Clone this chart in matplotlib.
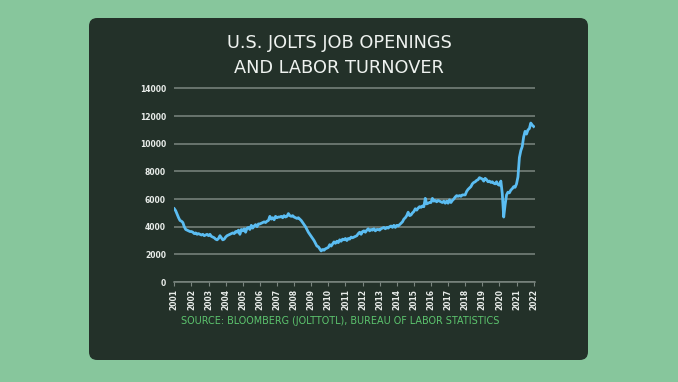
import matplotlib

matplotlib.use("Agg")
import matplotlib.pyplot as plt  # noqa: E402
import numpy as np  # noqa: E402
from matplotlib.patches import FancyBboxPatch  # noqa: E402

# monthly JOLTS job openings (thousands)
openings_by_year = {
    2001: [5300, 5150, 4900, 4650, 4450, 4400, 4300, 4000, 3800, 3750, 3700, 3650],
    2002: [3650, 3600, 3500, 3550, 3450, 3500, 3450, 3400, 3450, 3350, 3400, 3450],
    2003: [3350, 3450, 3300, 3250, 3200, 3100, 3050, 3150, 3350, 3200, 3050, 3100],
    2004: [3250, 3350, 3400, 3450, 3500, 3550, 3500, 3650, 3600, 3750, 3450, 3800],
    2005: [3700, 3850, 3600, 3900, 3950, 3800, 4100, 3900, 4050, 4150, 4000, 4200],
    2006: [4200, 4250, 4300, 4350, 4300, 4400, 4450, 4750, 4550, 4650, 4500, 4750],
    2007: [4650, 4700, 4700, 4750, 4650, 4800, 4700, 4750, 4950, 4800, 4750, 4800],
    2008: [4700, 4650, 4600, 4650, 4550, 4450, 4300, 4150, 4000, 3800, 3600, 3450],
    2009: [3300, 3150, 3000, 2800, 2600, 2550, 2400, 2250, 2350, 2300, 2400, 2450],
    2010: [2500, 2700, 2600, 2750, 2900, 2800, 2950, 2850, 3050, 2950, 3100, 3050],
    2011: [3150, 3000, 3150, 3100, 3250, 3200, 3250, 3300, 3350, 3500, 3600, 3450],
    2012: [3650, 3700, 3600, 3750, 3850, 3700, 3800, 3750, 3850, 3700, 3800, 3800],
    2013: [3750, 3850, 3900, 3950, 3850, 3950, 3900, 4000, 4050, 3950, 4100, 3950],
    2014: [4100, 4050, 4150, 4250, 4350, 4550, 4650, 4800, 5050, 4800, 4850, 5000],
    2015: [5100, 5300, 5200, 5350, 5450, 5400, 5500, 5450, 6050, 5650, 5700, 5750],
    2016: [5750, 6050, 5850, 5900, 5800, 5900, 5850, 5800, 5750, 5850, 5700, 5850],
    2017: [5700, 5950, 5750, 5900, 6000, 6150, 6250, 6200, 6250, 6200, 6300, 6300],
    2018: [6300, 6550, 6700, 6800, 6900, 7100, 7200, 7250, 7350, 7400, 7550, 7500],
    2019: [7450, 7300, 7500, 7400, 7250, 7300, 7200, 7250, 7150, 7100, 7250, 7050],
    2020: [7000, 7300, 6400, 4700, 5600, 6300, 6500, 6450, 6650, 6750, 6900, 6850],
    2021: [7100, 7600, 9000, 9500, 9800, 10500, 10900, 10700, 11000, 11100, 11500, 11350],
    2022: [11250],
}

years = list(openings_by_year)
openings = [v for y in years for v in openings_by_year[y]]
dates = 2001 + np.arange(len(openings)) / 12
year_ticks = list(range(2001, 2023))
y_ticks = list(range(0, 14001, 2000))

BG = "#87c69c"
PANEL = "#233129"
LINE = "#5bbdf2"
GRID = "#7b8680"
SOURCE = "#5cc46e"

W, H = 678, 382
fig = plt.figure(figsize=(W / 100, H / 100), dpi=100)
fig.patch.set_facecolor(BG)

panel = FancyBboxPatch((89 / W, 1 - 360 / H), (588 - 89) / W, (360 - 18) / H,
                       boxstyle="round,pad=0,rounding_size=0.012",
                       transform=fig.transFigure, facecolor=PANEL, edgecolor="none",
                       mutation_aspect=W / H, zorder=-10)
fig.patches.append(panel)

fig.text(0.5, 1 - 42.5 / H, "U.S. JOLTS JOB OPENINGS", ha="center", va="center",
         color="#eef2ef", fontsize=12.8, family="DejaVu Sans")
fig.text(0.5, 1 - 68.3 / H, "AND LABOR TURNOVER", ha="center", va="center",
         color="#eef2ef", fontsize=12.8, family="DejaVu Sans")
fig.text(340 / W, 1 - 321.5 / H, "SOURCE: BLOOMBERG (JOLTTOTL), BUREAU OF LABOR STATISTICS",
         ha="center", va="center", color=SOURCE, fontsize=6.9, family="DejaVu Sans")

x0, x1 = 174.3, 534.5
ax = fig.add_axes([x0 / W, 1 - 282 / H, (x1 - x0) / W, (282 - 87.1) / H])
ax.set_facecolor("none")
ax.plot(dates, openings, color=LINE, lw=2.0, solid_joinstyle="round")
ax.set_xlim(2001, 2022.05)
ax.set_ylim(0, 14100)
ax.set_yticks(y_ticks)
ax.set_yticklabels([str(t) for t in y_ticks], fontsize=5.5, color="#e8ece9", fontweight="bold")
ax.set_xticks(year_ticks)
ax.set_xticklabels([str(t) for t in year_ticks], rotation=90, fontsize=5.5,
                   color="#e8ece9", fontweight="bold")
ax.tick_params(axis="y", length=0, pad=6)
ax.tick_params(axis="x", length=3, width=0.8, color=GRID, pad=2)
ax.grid(axis="y", color=GRID, lw=1.1)
ax.set_axisbelow(True)
for side in ("top", "right", "left"):
    ax.spines[side].set_visible(False)
ax.spines["bottom"].set_color(GRID)
ax.spines["bottom"].set_linewidth(1.1)

fig.savefig("out.png", dpi=100, facecolor=BG)
